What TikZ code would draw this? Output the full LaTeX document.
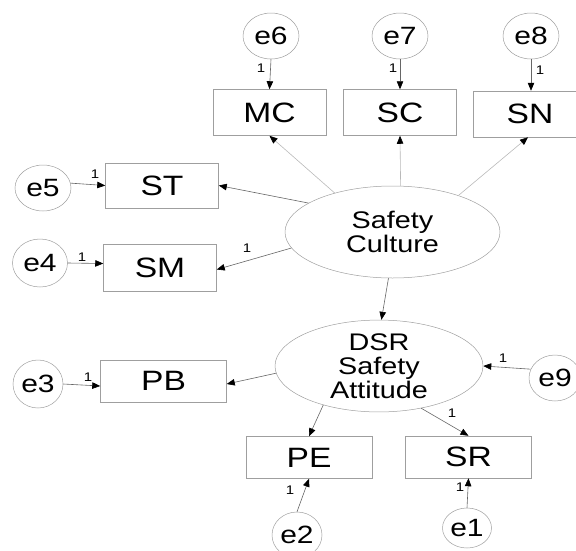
\documentclass[tikz,border=0pt]{standalone}
\usepackage{fontspec}
\setmainfont[FakeStretch=1.2]{Liberation Sans}
\usetikzlibrary{shapes.geometric,arrows.meta}
\begin{document}
\begin{tikzpicture}[x=1pt,y=-1pt,
  obs/.style={draw=gray!75, line width=0.5pt, minimum width=113pt, minimum height=46pt,
    inner sep=0pt, font=\fontsize{28}{30}\selectfont},
  obsw/.style={obs, minimum width=126pt, minimum height=42pt},
  err/.style={ellipse, draw=gray!75, line width=0.5pt, minimum width=56pt, minimum height=46pt,
    inner sep=0pt, font=\fontsize{25}{27}\selectfont},
  errs/.style={err, minimum width=50pt, minimum height=44pt},
  lat/.style={ellipse, draw=gray!75, line width=0.5pt, inner sep=0pt, align=center,
    font=\fontsize{24}{24}\selectfont},
  reg/.style={draw=black!60, line width=0.6pt,
    -{Triangle[length=8pt,width=6.5pt,color=black]}},
  load/.style={reg, draw=gray!55},
  fixed/.style={font=\fontsize{12.5}{12.5}\selectfont, inner sep=0pt},
]
\useasboundingbox (0,0) rectangle (576,550);

% latent variables
\node[lat, minimum width=215pt, minimum height=92pt] (sc) at (392.5,232) {Safety\\Culture};
\node[lat, minimum width=208pt, minimum height=88pt] (dsr) at (379,366) {DSR\\Safety\\Attitude};

% indicators of Safety Culture
\node[obs] (mc) at (269.5,112.5) {MC};
\node[obs] (scb) at (400,112.5) {SC};
\node[obs] (sn) at (530,114) {SN};
\node[obs, minimum height=45pt] (st) at (162,185.5) {ST};
\node[obs, minimum height=47pt] (sm) at (160,267.5) {SM};

% indicators of DSR Safety Attitude
\node[obsw] (pb) at (163.5,381) {PB};
\node[obsw] (pe) at (309,457.5) {PE};
\node[obsw] (sr) at (468.5,457) {SR};

% error terms
\node[err] (e6) at (271,36) {e6};
\node[err] (e7) at (400,36) {e7};
\node[err] (e8) at (531,36) {e8};
\node[err] (e5) at (43,188) {e5};
\node[err, minimum width=55pt, minimum height=48pt] (e4) at (40,263) {e4};
\node[errs, minimum height=48pt] (e3) at (38,384) {e3};
\node[errs, minimum width=52pt, minimum height=46pt] (e9) at (555,378) {e9};
\node[errs, minimum height=46pt] (e2) at (297,535) {e2};
\node[errs, minimum width=49pt, minimum height=40pt] (e1) at (467,528) {e1};

% structural path
\draw[reg] (sc.265) -- (dsr.87);

% loadings of Safety Culture
\draw[load] (sc.146) -- (mc.south);
\draw[load] (sc.80) -- (scb.south);
\draw[load] (sc.29) -- ([xshift=-2pt]sn.south);
\draw[reg] (sc.161) -- (st.east);
\draw[reg] (sc.189) -- ([yshift=-2pt]sm.east);

% loadings of DSR Safety Attitude
\draw[reg] (dsr.184) -- ([yshift=-3pt]pb.east);
\draw[reg] (dsr.215) -- (pe.north);
\draw[reg] (dsr.315) -- (sr.north);

% error paths
\draw[reg] (e6.south) -- (mc.north);
\draw[reg] (e7.south) -- (scb.north);
\draw[reg] (e8.south) -- (sn.north -| e8.south);
\draw[reg] (e5.10) -- (st.west);
\draw[reg] (e4.east) -- ([yshift=4pt]sm.west);
\draw[reg] (e3.east) -- ([yshift=-5pt]pb.west);
\draw[reg] (e9.160) -- (dsr.east);
\draw[reg] (e2.north) -- (pe.south);
\draw[reg] (e1.north) -- (sr.south);

% fixed parameters
\node[fixed] (f6) at (261,68) {1};
\node[fixed] (f7) at (393,68) {1};
\node[fixed] (f8) at (540,70) {1};
\node[fixed] (f5) at (95,174) {1};
\node[fixed] (f4) at (82,257) {1};
\node[fixed] (fsm) at (247,248) {1};
\node[fixed] (f3) at (88,377) {1};
\node[fixed] (f9) at (503,358) {1};
\node[fixed] (fsr) at (452,413) {1};
\node[fixed] (f2) at (290,490) {1};
\node[fixed] (f1) at (460,487) {1};
\end{tikzpicture}
\end{document}
